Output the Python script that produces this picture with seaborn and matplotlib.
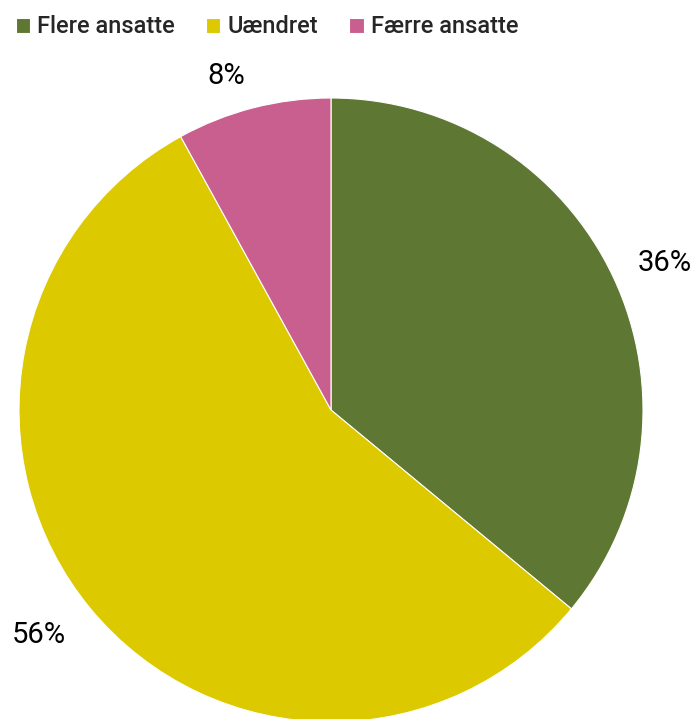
import matplotlib.pyplot as plt
import seaborn as sns

# data
categories = ['Flere ansatte', 'Uændret', 'Færre ansatte']
shares = [36, 56, 8]
colors = ['#5E7834', '#DDC900', '#C95F8F']

# where each percent label sits, in units of the pie radius
label_pos = [(1.07, 0.47), (-0.935, -0.72), (-0.337, 1.07)]

sns.set_theme(style='white')
plt.rcParams['font.family'] = ['Roboto', 'DejaVu Sans']

fig = plt.figure(figsize=(6.97, 7.19), dpi=100)
# axes placed so the pie fills the lower part of the figure
ax = fig.add_axes([19 / 697, -3 / 719, 624 / 697, 624 / 719])

wedges, texts, autotexts = ax.pie(
    shares, colors=colors, startangle=90, counterclock=False,
    autopct='%d%%', pctdistance=1.17, radius=1,
    wedgeprops={'edgecolor': 'white', 'linewidth': 0.8},
    textprops={'fontsize': 21, 'color': 'black'},
)
for t, pos in zip(autotexts, label_pos):
    t.set_position(pos)

ax.set_xlim(-1, 1)
ax.set_ylim(-1, 1)
ax.set_aspect('equal')

fig.legend(
    wedges, categories, loc='upper left', bbox_to_anchor=(-0.008, 1.008),
    ncol=3, frameon=False, prop={'size': 17, 'weight': 'medium'},
    handlelength=0.62, handleheight=0.62,
    handletextpad=0.3, columnspacing=1.3,
)

fig.savefig('out.png', dpi=100)
plt.close(fig)
